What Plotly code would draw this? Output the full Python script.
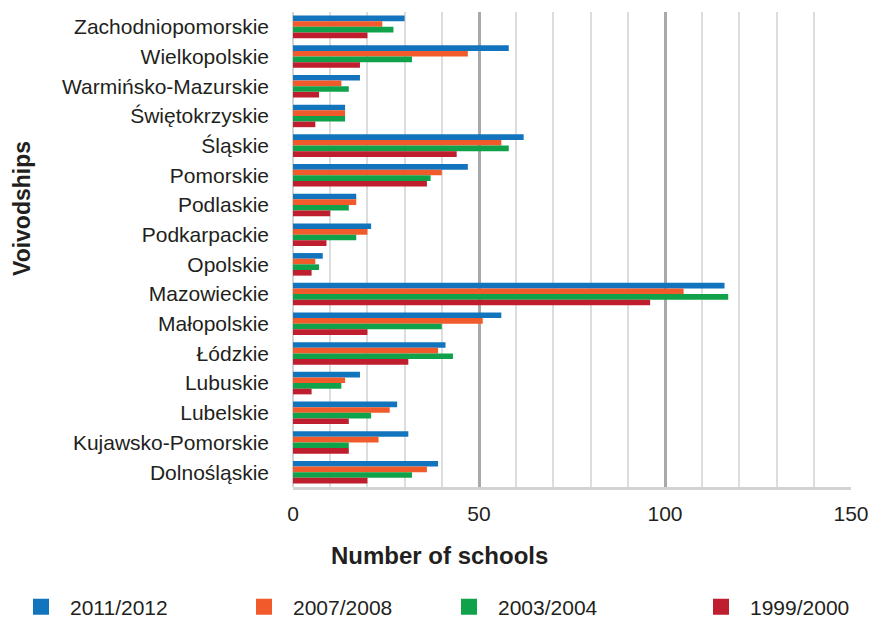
import plotly.graph_objects as go

# Voivodships, listed top to bottom
voivodships = [
    "Zachodniopomorskie", "Wielkopolskie", "Warmińsko-Mazurskie", "Świętokrzyskie",
    "Śląskie", "Pomorskie", "Podlaskie", "Podkarpackie", "Opolskie", "Mazowieckie",
    "Małopolskie", "Łódzkie", "Lubuskie", "Lubelskie", "Kujawsko-Pomorskie", "Dolnośląskie",
]

# Number of schools per school year
schools_2011_2012 = [30, 58, 18, 14, 62, 47, 17, 21, 8, 116, 56, 41, 18, 28, 31, 39]
schools_2007_2008 = [24, 47, 13, 14, 56, 40, 17, 20, 6, 105, 51, 39, 14, 26, 23, 36]
schools_2003_2004 = [27, 32, 15, 14, 58, 37, 15, 17, 7, 117, 40, 43, 13, 21, 15, 32]
schools_1999_2000 = [20, 18, 7, 6, 44, 36, 10, 9, 5, 96, 20, 31, 5, 15, 15, 20]

x_ticks = [0, 50, 100, 150]

series = [
    ("2011/2012", schools_2011_2012, "#1174bc"),
    ("2007/2008", schools_2007_2008, "#f15a2a"),
    ("2003/2004", schools_2003_2004, "#10a24a"),
    ("1999/2000", schools_1999_2000, "#be1e2d"),
]

FONT = "Liberation Sans, Arial, sans-serif"
TEXT = "#231f20"

W, H = 871, 619
L, R, T, B = 293, 20, 12, 132
pw, ph = W - L - R, H - T - B

# left edge (px) of each legend entry along the bottom row
legend_x_px = [12, 235, 440, 692]
legend_names = ["legend", "legend2", "legend3", "legend4"]

fig = go.Figure()
for (name, values, color), lg in zip(series, legend_names):
    fig.add_trace(go.Bar(
        y=voivodships, x=values, name=name, orientation="h",
        marker=dict(color=color, line=dict(width=0)),
        showlegend=False, legendgroup=name,
    ))
    # legend swatch for the series (larger square than the default bar icon)
    fig.add_trace(go.Scatter(
        x=[None], y=[None], mode="markers", name=name, legend=lg,
        legendgroup=name,
        marker=dict(symbol="square", size=16, color=color, line=dict(width=0)),
        hoverinfo="skip",
    ))


def px_x(p):
    return (p - L) / pw


def px_y(p):
    return (H - B - p) / ph


legend_common = dict(
    orientation="h", xref="container", yref="container",
    xanchor="left", y=(H - 607) / H, yanchor="middle",
    itemwidth=48, bgcolor="rgba(0,0,0,0)",
    font=dict(family=FONT, size=21, color=TEXT),
)

layout_legends = {
    lg: dict(legend_common, x=xp / W) for lg, xp in zip(legend_names, legend_x_px)
}

fig.update_layout(
    width=W, height=H,
    margin=dict(l=L, r=R, t=T, b=B, pad=0, autoexpand=False),
    paper_bgcolor="white", plot_bgcolor="white",
    barmode="group", bargap=0.24, bargroupgap=0,
    font=dict(family=FONT, size=21, color=TEXT),
    showlegend=True,
    xaxis=dict(
        range=[0, 150], tickvals=x_ticks, ticks="",
        ticklabelstandoff=6,
        showgrid=True, gridcolor="#a7a9ac", gridwidth=3,
        minor=dict(dtick=10, showgrid=True, gridcolor="#dcdddf", gridwidth=2, ticks=""),
        zeroline=True, zerolinecolor="#d1d3d4", zerolinewidth=2,
        showline=True, linecolor="#d1d3d4", linewidth=3,
        tickfont=dict(family=FONT, size=21, color=TEXT),
        fixedrange=True,
    ),
    yaxis=dict(
        type="category", autorange="reversed",
        showgrid=False, zeroline=False, showline=False, ticks="",
        ticklabelstandoff=23,
        tickfont=dict(family=FONT, size=21, color=TEXT),
        fixedrange=True,
    ),
    annotations=[
        dict(text="<b>Number of schools</b>", xref="paper", yref="paper",
             x=px_x(439), y=px_y(555), xanchor="center", yanchor="middle",
             showarrow=False, font=dict(family=FONT, size=24, color=TEXT)),
        dict(text="<b>Voivodships</b>", xref="paper", yref="paper",
             x=px_x(22), y=px_y(209), xanchor="center", yanchor="middle",
             textangle=-90, showarrow=False,
             font=dict(family=FONT, size=23, color=TEXT)),
    ],
    **layout_legends,
)

fig.write_html("out.html")
